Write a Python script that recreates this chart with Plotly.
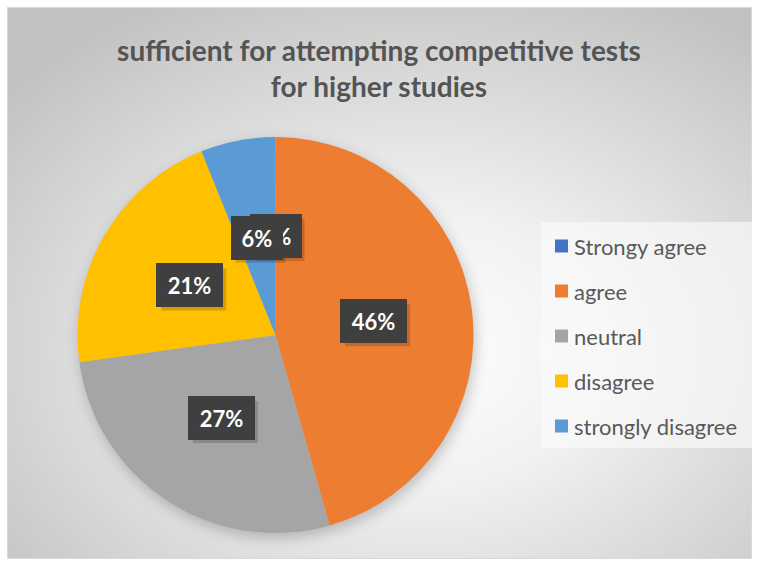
import math
import base64
import plotly.graph_objects as go

# ---- data ----
labels = ["Strongy agree", "agree", "neutral", "disagree", "strongly disagree"]
values = [0, 45.6, 27.2, 21.1, 6.1]
colors = ["#4472C4", "#ED7D31", "#A5A5A5", "#FFC000", "#5B9BD5"]
title_lines = ["sufficient for attempting competitive tests", "for higher studies"]

# ---- geometry (pixels) ----
W, H = 758, 561
CX, CY, R = 275.5, 335.0, 198.0
FONT = "Lato"
TXT = "#595959"

svg = f'''<svg xmlns="http://www.w3.org/2000/svg" width="{W}" height="{H}" viewBox="0 0 {W} {H}">
<defs>
<radialGradient id="g" cx="0.55" cy="0.62" r="0.72">
<stop offset="0" stop-color="#ffffff"/>
<stop offset="0.35" stop-color="#f1f1f1"/>
<stop offset="1" stop-color="#c2c2c2"/>
</radialGradient>
<filter id="b" x="-30%" y="-30%" width="160%" height="160%"><feGaussianBlur stdDeviation="7"/></filter>
</defs>
<rect x="7.5" y="7.5" width="744" height="551" fill="url(#g)" stroke="#d9d9d9" stroke-width="1"/>
<circle cx="{CX + 2}" cy="{CY + 5}" r="{R}" fill="rgba(0,0,0,0.22)" filter="url(#b)"/>
</svg>'''
src = "data:image/svg+xml;base64," + base64.b64encode(svg.encode()).decode()

fig = go.Figure()
fig.add_trace(go.Pie(
    labels=labels, values=values, sort=False, direction="clockwise", rotation=0,
    marker=dict(colors=colors, line=dict(width=0)),
    textinfo="none", hoverinfo="label+percent", showlegend=False,
    domain=dict(x=[(CX - R) / W, (CX + R) / W], y=[(H - CY - R) / H, (H - CY + R) / H]),
))

annotations = []
shapes = []
total = sum(values)
cum = 0.0
for v in values:
    th = 2 * math.pi * (cum + v / 2) / total
    cum += v
    px = CX + 0.5 * R * math.sin(th)
    py = CY - 0.5 * R * math.cos(th)
    x, y = px / W, 1 - py / H
    txt = f"{round(100 * v / total)}%"
    bw = 15 * len(txt) + 6 + 14   # box width px
    bh = 42
    shapes.append(dict(type="rect", xref="paper", yref="paper", layer="above",
                       xsizemode="pixel", ysizemode="pixel", xanchor=x, yanchor=y,
                       x0=-bw / 2 + 4, x1=bw / 2 + 4, y0=-bh / 2 - 4, y1=bh / 2 - 4,
                       fillcolor="rgba(0,0,0,0.16)", line=dict(width=0)))
    annotations.append(dict(x=x, y=y, xref="paper", yref="paper", text=txt,
                            xanchor="center", yanchor="middle",
                            showarrow=False, width=bw - 14, height=bh - 14,
                            font=dict(family=FONT, size=22, color="white", weight="bold"),
                            bgcolor="#3f3f3f", bordercolor="#3f3f3f", borderpad=7))

shapes.append(dict(type="rect", xref="paper", yref="paper", layer="below",
                   x0=541 / W, x1=752 / W, y0=1 - 448 / H, y1=1 - 222 / H,
                   fillcolor="rgba(250,250,250,0.65)", line=dict(width=0)))
for i, (lab, col) in enumerate(zip(labels, colors)):
    yc = 246 + 45 * i
    shapes.append(dict(type="rect", xref="paper", yref="paper",
                       x0=555 / W, x1=568 / W, y0=1 - (yc + 6.5) / H, y1=1 - (yc - 6.5) / H,
                       fillcolor=col, line=dict(width=0)))
    annotations.append(dict(x=572 / W, y=1 - yc / H, xref="paper", yref="paper",
                            xanchor="left", yanchor="middle", text=lab, showarrow=False,
                            font=dict(family=FONT, size=22, color=TXT)))

fig.update_layout(
    width=W, height=H, margin=dict(l=0, r=0, t=0, b=0),
    paper_bgcolor="white", plot_bgcolor="white",
    title=dict(text="<br>".join(title_lines), x=0.5, xanchor="center",
               y=1 - 61 / H, yanchor="top",
               font=dict(family=FONT, size=28, color="#545454", weight="bold")),
    images=[dict(source=src, xref="paper", yref="paper", x=0, y=1, sizex=1, sizey=1,
                 xanchor="left", yanchor="top", sizing="stretch", layer="below")],
    shapes=shapes, annotations=annotations,
)

fig.write_html("out.html", config={"displayModeBar": False},
               post_script="document.body.style.margin='0';document.body.style.overflow='hidden';")
